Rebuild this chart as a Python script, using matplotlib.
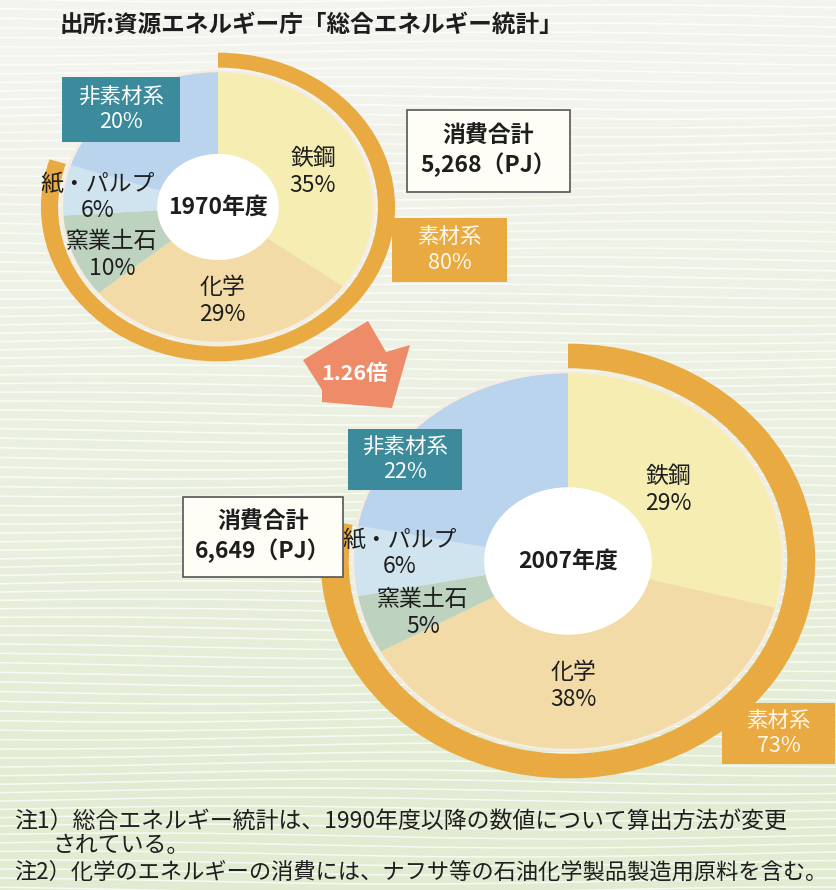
import numpy as np
import matplotlib
matplotlib.use('Agg')
import matplotlib.pyplot as plt
from matplotlib.patches import Circle, Rectangle, Polygon

plt.rcParams['font.family'] = ['Noto Sans CJK JP', 'DejaVu Sans']

# data
sectors = ['鉄鋼', '化学', '窯業土石', '紙・パルプ', '非素材系']
share_1970 = [35, 29, 10, 6, 20]
share_2007 = [29, 38, 5, 6, 22]
years = ['1970年度', '2007年度']
material_share = [80, 73]
total_pj = [5268, 6649]
source = '出所:資源エネルギー庁「総合エネルギー統計」'
notes = ['注1）総合エネルギー統計は、1990年度以降の数値について算出方法が変更',
         'されている。',
         '注2）化学のエネルギーの消費には、ナフサ等の石油化学製品製造用原料を含む。']

colors = ['#F6EDB3', '#F3DBA7', '#BDD3C0', '#CFE4EF', '#B9D4EC']
ORANGE = '#E9AA42'
TEAL = '#3B8B9C'
SALMON = '#EE8C6A'
INK = '#1E1E1E'

W, H = 837, 890
fig = plt.figure(figsize=(W / 100, H / 100), dpi=100)

# background with soft gradient and white wavy stripes
bg = fig.add_axes([0, 0, 1, 1])
grad = np.linspace(0, 1, 200)[:, None, None]
top = np.array([0.96, 0.96, 0.94])
bot = np.array([0.88, 0.925, 0.82])
bg.imshow(top + (bot - top) * grad, extent=[0, W, H, 0], aspect='auto', zorder=0)
xs = np.linspace(0, W, 300)
for y0 in np.arange(-10, H + 10, 9):
    bg.plot(xs, y0 + 3 * np.sin(xs / 140 + y0 / 37), color='white', lw=1.1, alpha=0.75, zorder=1)
bg.set_xlim(0, W)
bg.set_ylim(H, 0)
bg.axis('off')


def donut(share, cx, cy, rx, ry, ring_in, ring_out, year):
    m = ring_out + 0.02
    ax = fig.add_axes([(cx - rx * m) / W, 1 - (cy + ry * m) / H, 2 * rx * m / W, 2 * ry * m / H])
    ax.pie(share, colors=colors, startangle=90, counterclock=False, radius=1,
           wedgeprops=dict(linewidth=0))
    mat = sum(share[:4])
    ax.pie([mat, 100 - mat], colors=[ORANGE, 'none'], startangle=90, counterclock=False,
           radius=ring_out, wedgeprops=dict(width=ring_out - ring_in, linewidth=0))
    ax.add_patch(Circle((0, 0), 1, fill=False, ec='#F6ECE2', lw=1.8))
    ax.add_patch(Circle((0, 0), 0.39, fc='white', ec='none'))
    ax.text(0, 0, year, ha='center', va='center', fontsize=16.5, weight='bold', color=INK)
    ax.set_aspect('auto')
    ax.set_xlim(-m, m)
    ax.set_ylim(-m, m)
    ax.axis('off')
    return ax


donut(share_1970, 218, 207, 156, 136, 1.025, 1.135, years[0])
donut(share_2007, 568, 561, 215, 189, 1.02, 1.15, years[1])

# overlay for labels and boxes
fg = fig.add_axes([0, 0, 1, 1])
fg.set_xlim(0, W)
fg.set_ylim(H, 0)
fg.axis('off')


def lab(x, y, i, share):
    fg.text(x, y, f'{sectors[i]}\n{share[i]}%', ha='center', va='center',
            fontsize=16.5, color=INK, linespacing=1.2)


def box(x0, y0, x1, y1, txt, fc, tc, ec='none', **kw):
    fg.add_patch(Rectangle((x0, y0), x1 - x0, y1 - y0, fc=fc, ec=ec, lw=1.2))
    fg.text((x0 + x1) / 2, (y0 + y1) / 2, txt, ha='center', va='center', color=tc,
            linespacing=1.2, **kw)


# 1970
lab(313, 172, 0, share_1970)
lab(222, 301, 1, share_1970)
lab(112, 255, 2, share_1970)
lab(98, 197, 3, share_1970)
box(62, 77, 180, 142, f'{sectors[4]}\n{share_1970[4]}%', TEAL, 'white', fontsize=15.5)
box(407, 110, 570, 192, f'消費合計\n{total_pj[0]:,}（PJ）', '#FFFEF6', INK, ec='#555555',
    fontsize=16.5, weight='bold')
box(392, 218, 507, 282, f'素材系\n{material_share[0]}%', ORANGE, '#FFF8EC', fontsize=15.5)

# 2007
lab(668, 490, 0, share_2007)
lab(573, 686, 1, share_2007)
lab(423, 613, 2, share_2007)
lab(400, 553, 3, share_2007)
box(348, 429, 462, 490, f'{sectors[4]}\n{share_2007[4]}%', TEAL, 'white', fontsize=15.5)
box(183, 497, 343, 577, f'消費合計\n{total_pj[1]:,}（PJ）', '#FFFEF6', INK, ec='#555555',
    fontsize=16.5, weight='bold')
box(722, 703, 835, 764, f'素材系\n{material_share[1]}%', ORANGE, '#FFF8EC', fontsize=15.5)

# growth arrow
fg.add_patch(Polygon([(303, 360), (368, 321), (386, 352), (410, 345), (392, 408),
                      (322, 402), (322, 390)], closed=True, fc=SALMON, ec='none'))
fg.text(355, 374, f'{total_pj[1] / total_pj[0]:.2f}倍', ha='center', va='center',
        fontsize=15.5, weight='bold', color='white')

# title and notes
fg.text(60, 25, source, ha='left', va='center', fontsize=17, weight='bold', color=INK)
fg.text(14, 821, notes[0], ha='left', va='center', fontsize=16.5, color=INK)
fg.text(52, 846, notes[1], ha='left', va='center', fontsize=16.5, color=INK)
fg.text(14, 872, notes[2], ha='left', va='center', fontsize=16, color=INK)

fig.savefig('out.png', dpi=100)
